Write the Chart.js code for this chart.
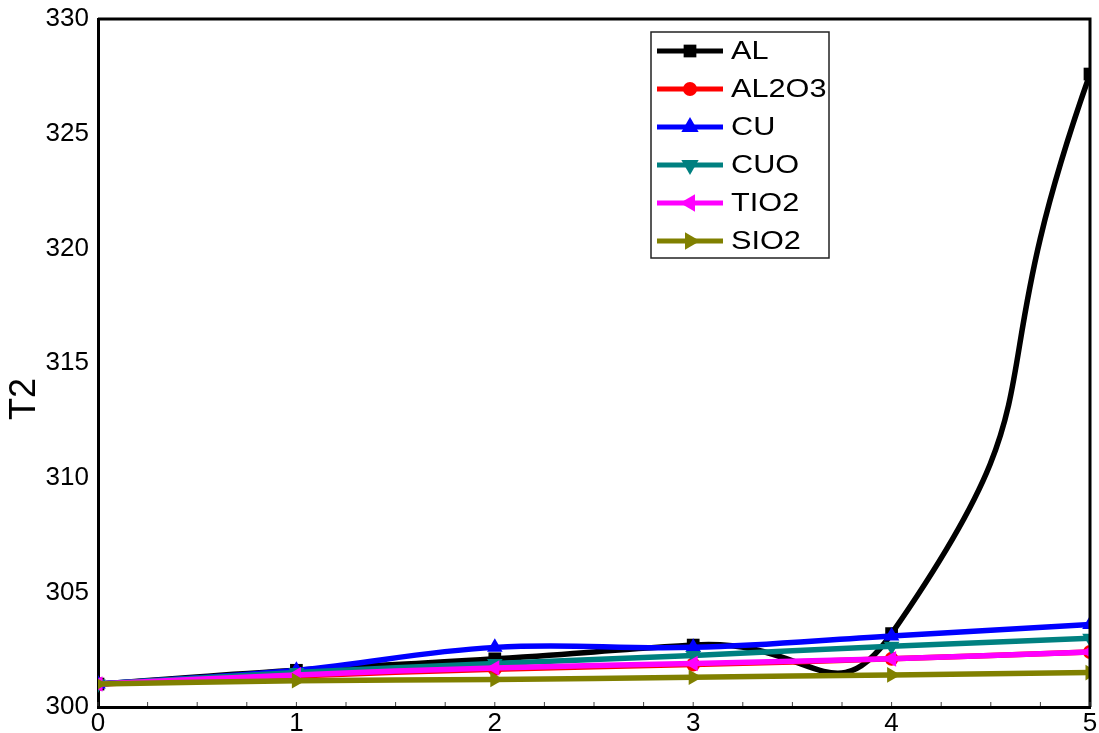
<!DOCTYPE html>
<html>
<head>
<meta charset="utf-8">
<script src="https://cdn.jsdelivr.net/npm/chart.js@4/dist/chart.umd.min.js"></script>
<style>
  html, body { margin: 0; padding: 0; background: #fff; }
  #wrap { width: 1099px; height: 733px; }
</style>
</head>
<body>
<div id="wrap"><canvas id="c"></canvas></div>
<script>
// data
const xValues = [0, 1, 2, 3, 4, 5];
const al    = [301.0, 301.6, 302.1, 302.7, 303.2, 327.6];
const al2o3 = [301.0, 301.35, 301.65, 301.85, 302.1, 302.4];
const cu    = [301.0, 301.6, 302.6, 302.6, 303.1, 303.6];
const cuo   = [301.0, 301.5, 301.9, 302.25, 302.65, 303.0];
const tio2  = [301.0, 301.4, 301.7, 301.9, 302.1, 302.4];
const sio2  = [301.0, 301.15, 301.2, 301.3, 301.4, 301.5];
const xTicks = [0, 1, 2, 3, 4, 5];
const yTicks = [300, 305, 310, 315, 320, 325, 330];

const FONT = "'Liberation Sans', Arial, sans-serif";

function series(label, values, color, style, rot, order, tension) {
  return {
    label: label,
    data: values.map((v, i) => ({ x: xValues[i], y: v })),
    borderColor: color,
    backgroundColor: color,
    borderWidth: 5.5,
    pointStyle: style,
    rotation: rot,
    pointRadius: style === 'circle' ? 7 : 9,
    pointBorderWidth: 0,
    tension: tension,
    order: order
  };
}

// frame, minor ticks, y title and the boxed legend
const extras = {
  id: 'extras',
  afterDraw(chart) {
    const { ctx, chartArea: a, scales } = chart;
    ctx.save();
    ctx.strokeStyle = '#000';
    ctx.lineWidth = 3;
    ctx.beginPath();
    ctx.moveTo(a.left, a.top);
    ctx.lineTo(a.right, a.top);
    ctx.lineTo(a.right, a.bottom);
    ctx.stroke();

    ctx.lineWidth = 1;
    ctx.strokeStyle = '#444';
    ctx.beginPath();
    for (let v = 0; v <= 5; v += 0.25) {
      const px = scales.x.getPixelForValue(v);
      ctx.moveTo(px, a.bottom - 1);
      ctx.lineTo(px, a.bottom - 5);
    }
    ctx.stroke();

    // y axis title
    ctx.save();
    ctx.translate(25, 399);
    ctx.rotate(-Math.PI / 2);
    ctx.fillStyle = '#000';
    ctx.font = '36px ' + FONT;
    ctx.textAlign = 'center';
    ctx.textBaseline = 'middle';
    ctx.fillText('T2', 0, 0);
    ctx.restore();

    // legend
    const bx = 651, by = 32, bw = 178, bh = 226;
    ctx.fillStyle = '#fff';
    ctx.fillRect(bx, by, bw, bh);
    ctx.strokeStyle = '#222';
    ctx.lineWidth = 1.5;
    ctx.strokeRect(bx, by, bw, bh);
    chart.data.datasets.forEach((ds, i) => {
      const y = 51 + i * 38;
      ctx.strokeStyle = ds.borderColor;
      ctx.lineWidth = 5;
      ctx.beginPath();
      ctx.moveTo(657, y);
      ctx.lineTo(723, y);
      ctx.stroke();
      ctx.fillStyle = ds.backgroundColor;
      Chart.helpers.drawPoint(ctx, {
        pointStyle: ds.pointStyle, rotation: ds.rotation,
        radius: ds.pointStyle === 'triangle' ? 10 : ds.pointRadius, borderWidth: 0
      }, 690, y);
      ctx.save();
      ctx.translate(731, y);
      ctx.scale(1.18, 1);
      ctx.fillStyle = '#000';
      ctx.font = '26px ' + FONT;
      ctx.textBaseline = 'middle';
      ctx.fillText(ds.label, 0, 1);
      ctx.restore();
    });
    ctx.restore();
  }
};

new Chart(document.getElementById('c'), {
  type: 'line',
  data: {
    datasets: [
      series('AL', al, '#000000', 'rect', 0, 6, 0.6),
      series('AL2O3', al2o3, '#ff0000', 'circle', 0, 5, 0.4),
      series('CU', cu, '#0000ff', 'triangle', 0, 4, 0.4),
      series('CUO', cuo, '#008080', 'triangle', 180, 3, 0.4),
      series('TIO2', tio2, '#ff00ff', 'triangle', 270, 2, 0.4),
      series('SIO2', sio2, '#808000', 'triangle', 90, 1, 0.4)
    ]
  },
  options: {
    responsive: true,
    maintainAspectRatio: false,
    animation: false,
    layout: { padding: { top: 19, right: 8, left: 0, bottom: 0 } },
    elements: { line: { capBezierPoints: false } },
    plugins: { legend: { display: false }, tooltip: { enabled: false } },
    scales: {
      x: {
        type: 'linear', min: 0, max: 5,
        grid: { display: false },
        border: { display: true, color: '#000', width: 3 },
        afterBuildTicks: s => { s.ticks = xTicks.map(v => ({ value: v })); },
        afterFit: s => { s.height = 26; },
        ticks: { color: '#000', padding: -7, font: { family: FONT, size: 26 }, maxRotation: 0 }
      },
      y: {
        min: 300, max: 330,
        grid: { display: false },
        border: { display: true, color: '#000', width: 3 },
        afterBuildTicks: s => { s.ticks = yTicks.map(v => ({ value: v })); },
        afterFit: s => { s.width = 98; },
        ticks: { color: '#000', padding: 1, font: { family: FONT, size: 26 } }
      }
    }
  },
  plugins: [extras]
});
</script>
</body>
</html>
